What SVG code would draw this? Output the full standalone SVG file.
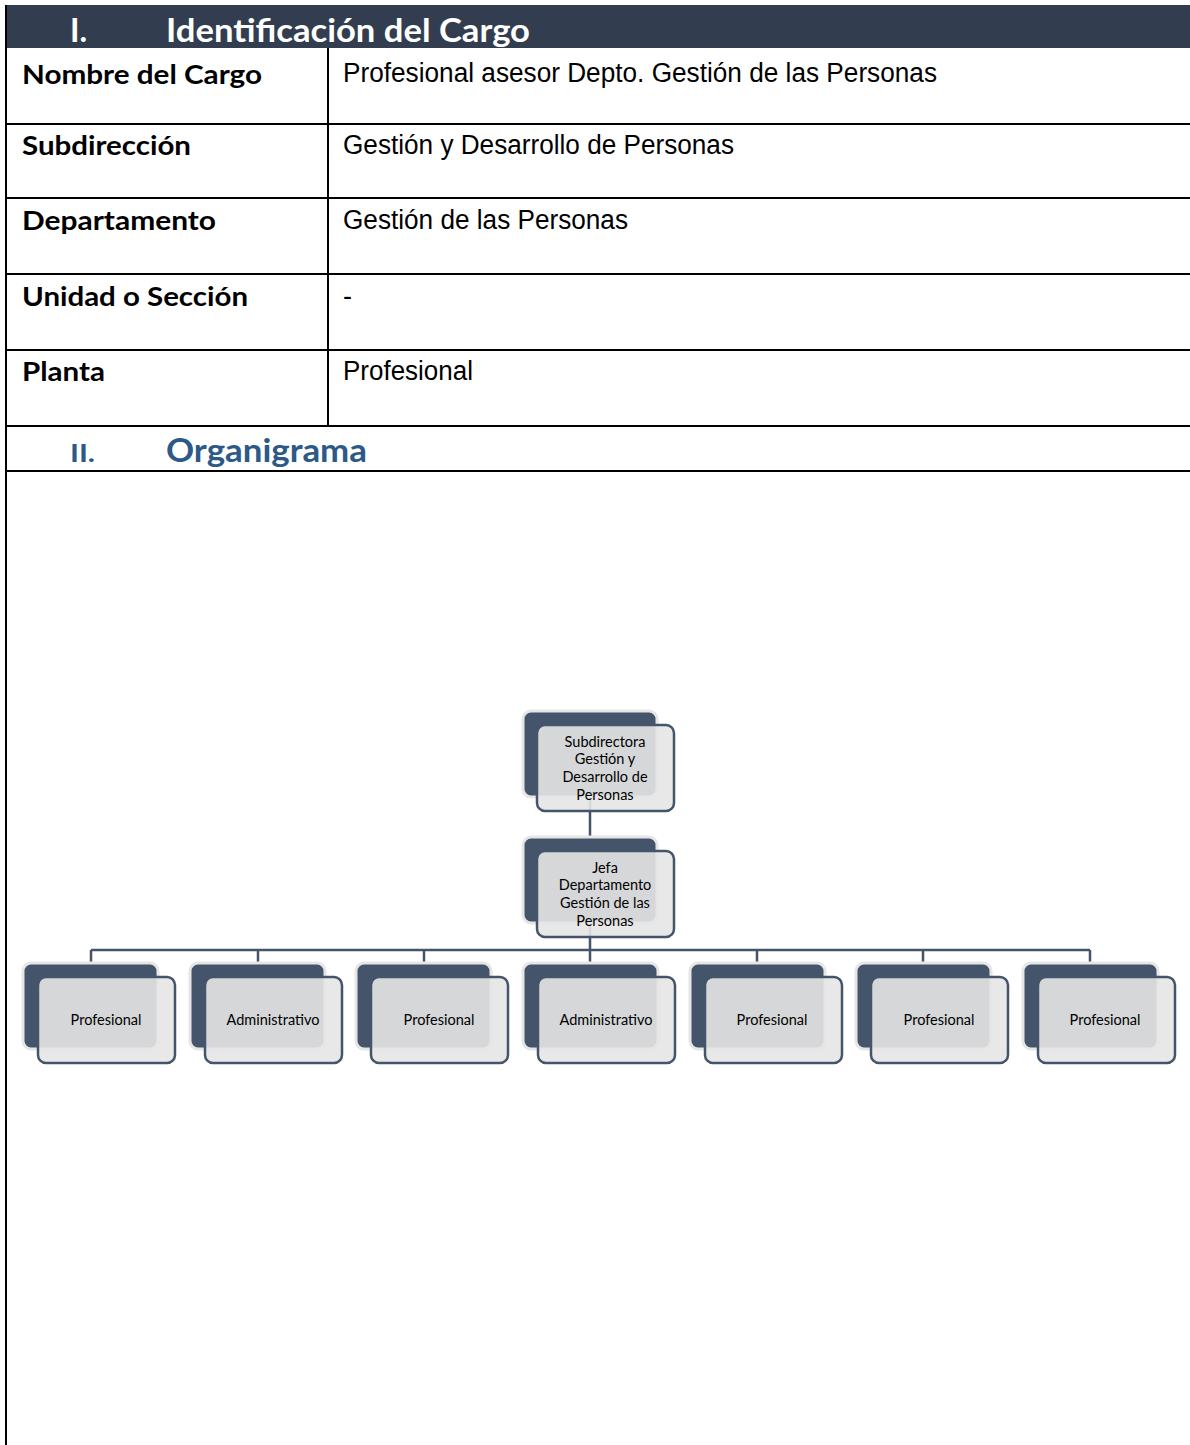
<svg xmlns="http://www.w3.org/2000/svg" width="1190" height="1445" viewBox="0 0 1190 1445">
<style>
.hd{font-family:Lato,"Open Sans",sans-serif;font-weight:bold;fill:#fff;font-size:32px}
.lb{font-family:Lato,"Open Sans",sans-serif;font-weight:bold;fill:#000;font-size:27px}
.vl{font-family:"Liberation Sans Narrow","Liberation Sans",sans-serif;fill:#000;font-size:27px}
.sec{font-family:Lato,"Open Sans",sans-serif;font-weight:bold;fill:#2C5987}
.grid{stroke:#000;stroke-width:2;fill:none}
.back{fill:#44546A;stroke:#E6E6E6;stroke-width:3}
.front{fill:#E6E6E6;fill-opacity:0.9;stroke:#44546A;stroke-width:2.5}
.nt{font-family:Lato,"Open Sans",sans-serif;font-size:14.5px;fill:#000;text-anchor:middle}
.cn{stroke:#44546A;stroke-width:2.5;fill:none}
</style>
<rect width="1190" height="1445" fill="#fff"/>
<g id="header">
<rect x="5" y="5" width="1185" height="43" fill="#323E4F"/>
<text class="hd" x="70" y="42">I.</text>
<text class="hd" x="166" y="42" textLength="364" lengthAdjust="spacingAndGlyphs">Identificación del Cargo</text>
</g>
<g id="table">
<path class="grid" d="M6 5V1445 M328 48V426 M6 124H1190 M6 198H1190 M6 274H1190 M6 350H1190 M6 426H1190 M6 471H1190"/>
<text class="lb" x="22" y="84" textLength="240" lengthAdjust="spacingAndGlyphs">Nombre del Cargo</text>
<text class="vl" x="343" y="82" textLength="594" lengthAdjust="spacingAndGlyphs">Profesional asesor Depto. Gestión de las Personas</text>
<text class="lb" x="22" y="155" textLength="169" lengthAdjust="spacingAndGlyphs">Subdirección</text>
<text class="vl" x="343" y="154" textLength="391" lengthAdjust="spacingAndGlyphs">Gestión y Desarrollo de Personas</text>
<text class="lb" x="22" y="230" textLength="194" lengthAdjust="spacingAndGlyphs">Departamento</text>
<text class="vl" x="343" y="229" textLength="285" lengthAdjust="spacingAndGlyphs">Gestión de las Personas</text>
<text class="lb" x="22" y="306" textLength="226" lengthAdjust="spacingAndGlyphs">Unidad o Sección</text>
<text class="vl" x="343" y="305">-</text>
<text class="lb" x="22" y="381" textLength="83" lengthAdjust="spacingAndGlyphs">Planta</text>
<text class="vl" x="343" y="380" textLength="130" lengthAdjust="spacingAndGlyphs">Profesional</text>
<text class="sec" x="70" y="462" font-size="25" textLength="25" lengthAdjust="spacingAndGlyphs">II.</text>
<text class="sec" x="166" y="462" font-size="32" textLength="201" lengthAdjust="spacingAndGlyphs">Organigrama</text>
</g>
<g id="connectors">
<path class="cn" d="M590 797V837 M590 923V950 M91 950H1090 M91 950V963 M258 950V963 M424 950V963 M590 950V963 M757 950V963 M923 950V963 M1090 950V963"/>
</g>
<g id="n-subdirectora">
<rect class="back" x="523" y="711" width="134" height="86" rx="8"/>
<rect class="front" x="537" y="725" width="137" height="86" rx="8"/>
<text class="nt" x="605" y="747">Subdirectora</text>
<text class="nt" x="605" y="764">Gestión y</text>
<text class="nt" x="605" y="782">Desarrollo de</text>
<text class="nt" x="605" y="800">Personas</text>
</g>
<g id="n-jefa">
<rect class="back" x="523" y="837" width="134" height="86" rx="8"/>
<rect class="front" x="537" y="851" width="137" height="86" rx="8"/>
<text class="nt" x="605" y="873">Jefa</text>
<text class="nt" x="605" y="890">Departamento</text>
<text class="nt" x="605" y="908">Gestión de las</text>
<text class="nt" x="605" y="926">Personas</text>
</g>
<g id="n-1">
<rect class="back" x="23" y="963" width="135" height="86" rx="8"/>
<rect class="front" x="38" y="977" width="137" height="86" rx="8"/>
<text class="nt" x="106" y="1025">Profesional</text>
</g>
<g id="n-2">
<rect class="back" x="190" y="963" width="135" height="86" rx="8"/>
<rect class="front" x="205" y="977" width="137" height="86" rx="8"/>
<text class="nt" x="273" y="1025">Administrativo</text>
</g>
<g id="n-3">
<rect class="back" x="356" y="963" width="135" height="86" rx="8"/>
<rect class="front" x="371" y="977" width="137" height="86" rx="8"/>
<text class="nt" x="439" y="1025">Profesional</text>
</g>
<g id="n-4">
<rect class="back" x="523" y="963" width="135" height="86" rx="8"/>
<rect class="front" x="538" y="977" width="137" height="86" rx="8"/>
<text class="nt" x="606" y="1025">Administrativo</text>
</g>
<g id="n-5">
<rect class="back" x="690" y="963" width="135" height="86" rx="8"/>
<rect class="front" x="705" y="977" width="137" height="86" rx="8"/>
<text class="nt" x="772" y="1025">Profesional</text>
</g>
<g id="n-6">
<rect class="back" x="856" y="963" width="135" height="86" rx="8"/>
<rect class="front" x="871" y="977" width="137" height="86" rx="8"/>
<text class="nt" x="939" y="1025">Profesional</text>
</g>
<g id="n-7">
<rect class="back" x="1023" y="963" width="135" height="86" rx="8"/>
<rect class="front" x="1038" y="977" width="137" height="86" rx="8"/>
<text class="nt" x="1105" y="1025">Profesional</text>
</g>
</svg>
